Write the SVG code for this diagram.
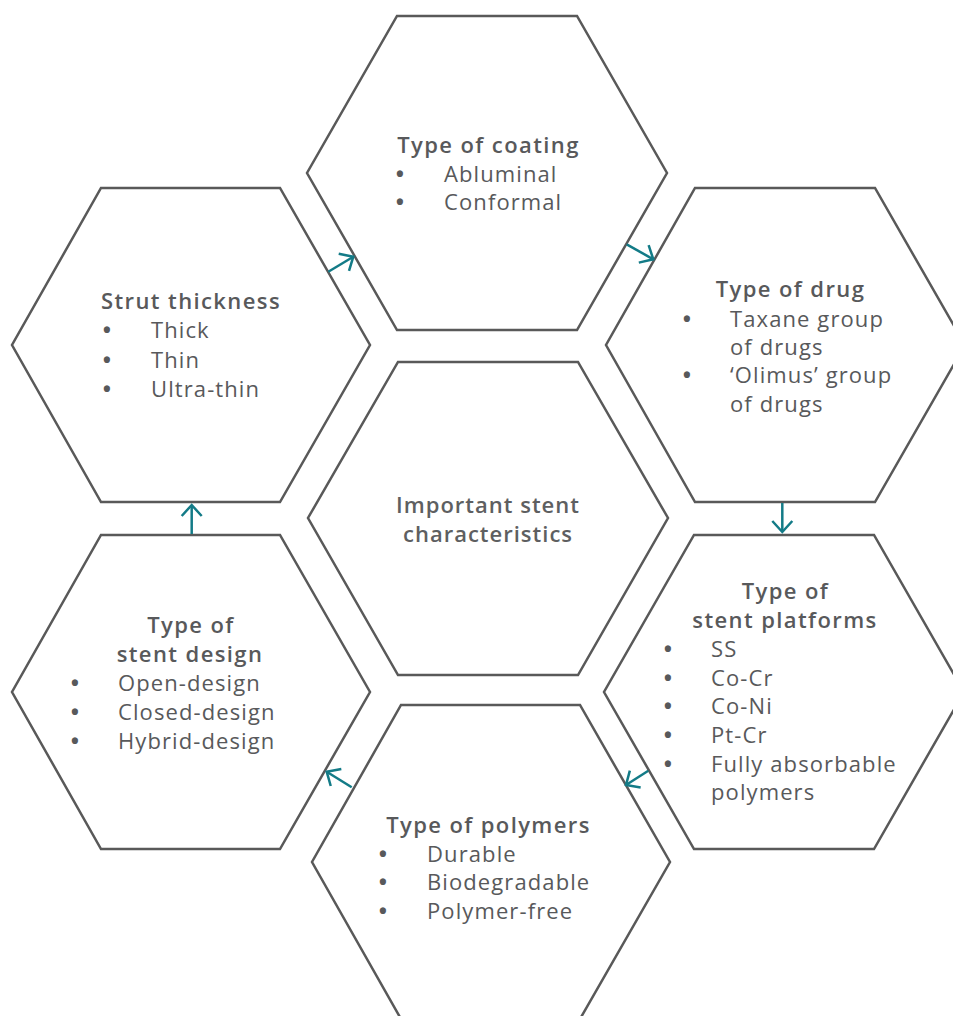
<svg xmlns="http://www.w3.org/2000/svg" width="953" height="1016" viewBox="0 0 953 1016">
<defs>
<style>
.hex{fill:#fff;stroke:#595959;stroke-width:2.5;stroke-linejoin:miter}
text{font-family:"Open Sans","Liberation Sans",sans-serif;fill:#58595b;font-size:22px;letter-spacing:1.1px}
.t{font-weight:600;text-anchor:middle;letter-spacing:1.4px}
.c{font-weight:600;text-anchor:middle;letter-spacing:1px;fill:#5e5f61}
.b{text-anchor:middle;font-weight:700;letter-spacing:0}
.arr{stroke:#137b87;stroke-width:2.5;fill:none;marker-end:url(#ah)}
</style>
<marker id="ah" markerUnits="userSpaceOnUse" viewBox="-13 -12 15 24" refX="0" refY="0" markerWidth="15" markerHeight="24" orient="auto">
<path d="M-11,-10 L0,0 L-11,10" fill="none" stroke="#137b87" stroke-width="2.5"/>
</marker>
</defs>
<rect width="953" height="1016" fill="#fff"/>

<g id="center">
<polygon class="hex" points="398,362 578,362 668,518 578,675 398,675 308,518"/>
<text class="c" x="488" y="513">Important stent</text>
<text class="c" x="488" y="542">characteristics</text>
</g>

<g id="coating">
<polygon class="hex" points="397,16 577,16 667,173 577,330 397,330 307,173"/>
<text class="t" x="488.5" y="153">Type of coating</text>
<text class="b" x="400" y="182">•</text><text x="444" y="182">Abluminal</text>
<text class="b" x="400" y="210">•</text><text x="444" y="210">Conformal</text>
</g>

<g id="strut">
<polygon class="hex" points="101,188 280,188 370,345 280,502 101,502 12,345"/>
<text class="t" x="191" y="309">Strut thickness</text>
<text class="b" x="107" y="338">•</text><text x="151" y="338">Thick</text>
<text class="b" x="107" y="368">•</text><text x="151" y="368">Thin</text>
<text class="b" x="107" y="397">•</text><text x="151" y="397">Ultra-thin</text>
</g>

<g id="drug">
<polygon class="hex" points="695,188 875,188 965,345 875,502 695,502 606,345"/>
<text class="t" x="790.5" y="297">Type of drug</text>
<text class="b" x="687" y="327">•</text><text x="730" y="327">Taxane group</text>
<text x="730" y="355">of drugs</text>
<text class="b" x="687" y="383">•</text><text x="730" y="383">‘Olimus’ group</text>
<text x="730" y="412">of drugs</text>
</g>

<g id="platforms">
<polygon class="hex" points="694,535 874,535 964,692 874,849 694,849 604,692"/>
<text class="t" x="785.5" y="599">Type of</text>
<text class="t" x="785" y="628">stent platforms</text>
<text class="b" x="668" y="657">•</text><text x="711" y="657">SS</text>
<text class="b" x="668" y="686">•</text><text x="711" y="686">Co-Cr</text>
<text class="b" x="668" y="714">•</text><text x="711" y="714">Co-Ni</text>
<text class="b" x="668" y="743">•</text><text x="711" y="743">Pt-Cr</text>
<text class="b" x="668" y="772">•</text><text x="711" y="772">Fully absorbable</text>
<text x="711" y="800">polymers</text>
</g>

<g id="polymers">
<polygon class="hex" points="401,705 580,705 670,862 580,1019 401,1019 312,862"/>
<text class="t" x="488.5" y="833">Type of polymers</text>
<text class="b" x="383" y="862">•</text><text x="427" y="862">Durable</text>
<text class="b" x="383" y="890">•</text><text x="427" y="890">Biodegradable</text>
<text class="b" x="383" y="919">•</text><text x="427" y="919">Polymer-free</text>
</g>

<g id="design">
<polygon class="hex" points="101,535 280,535 370,692 280,849 101,849 12,692"/>
<text class="t" x="191" y="633">Type of</text>
<text class="t" x="190" y="662">stent design</text>
<text class="b" x="75" y="691">•</text><text x="118" y="691">Open-design</text>
<text class="b" x="75" y="720">•</text><text x="118" y="720">Closed-design</text>
<text class="b" x="75" y="749">•</text><text x="118" y="749">Hybrid-design</text>
</g>

<g id="connectors">
<line class="arr" x1="328.3" y1="271.7" x2="353.3" y2="256.7"/>
<line class="arr" x1="626.7" y1="244.3" x2="653.3" y2="259.3"/>
<line class="arr" x1="782.3" y1="503" x2="782.3" y2="532"/>
<line class="arr" x1="648.3" y1="770.7" x2="626" y2="785"/>
<line class="arr" x1="351.7" y1="787.3" x2="326.7" y2="771.7"/>
<line class="arr" x1="191.7" y1="534" x2="191.7" y2="505"/>
</g>
</svg>
